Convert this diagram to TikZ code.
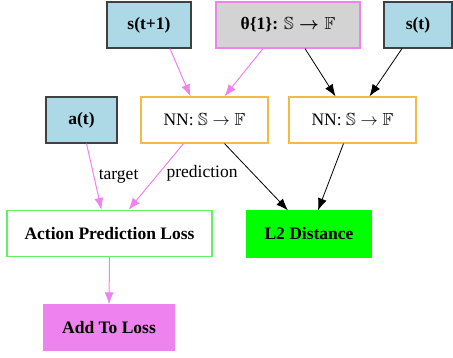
\documentclass[tikz,border=0pt]{standalone}
\usepackage{amsmath,amssymb}
\usepackage{fontspec}
\setmainfont{Liberation Serif}
\usepackage{tikz}
\usepackage{xcolor}
\usetikzlibrary{arrows.meta,positioning}
\definecolor{inBlue}{RGB}{173,216,230}
\definecolor{thetaGray}{RGB}{211,211,211}
\definecolor{edgeViolet}{RGB}{238,130,238}
\definecolor{nnOrange}{RGB}{245,185,70}
\definecolor{lossGreen}{RGB}{100,240,100}
\definecolor{distGreen}{RGB}{0,255,0}

\begin{document}
\begin{tikzpicture}[x=1pt,y=-1pt,
    box/.style={draw, line width=1.2pt, minimum height=46pt, inner sep=2pt,
                font=\fontsize{17.5}{20}\selectfont},
    inbox/.style={box, fill=inBlue, draw=black!75, font=\fontsize{17.5}{20}\selectfont\bfseries},
    nnbox/.style={box, draw=nnOrange, minimum width=127pt},
    vio/.style={-{Latex[length=12pt,width=9pt]}, edgeViolet, line width=1pt},
    blk/.style={-{Latex[length=12pt,width=9pt]}, black, line width=0.8pt},
    lbl/.style={text=black, font=\fontsize{17.5}{20}\selectfont}]
    \useasboundingbox (0,0) rectangle (453,358);

    \node[inbox, minimum width=84pt] (snext) at (149,25) {s(t+1)};
    \node[box, fill=thetaGray, draw=edgeViolet, minimum width=144pt,
          font=\fontsize{17.5}{20}\selectfont\bfseries] (theta) at (288,25)
          {θ\{1\}: $\boldsymbol{\mathbb{S}\rightarrow\mathbb{F}}$};
    \node[inbox, minimum width=68pt] (scur) at (418,25) {s(t)};
    \node[inbox, minimum width=71pt] (act) at (81.5,120) {a(t)};
    \node[nnbox] (nnA) at (204.5,120) {NN: $\mathbb{S}\rightarrow\mathbb{F}$};
    \node[nnbox] (nnB) at (352.5,120) {NN: $\mathbb{S}\rightarrow\mathbb{F}$};
    \node[box, draw=lossGreen, minimum width=205pt,
          font=\fontsize{17.5}{20}\selectfont\bfseries] (apl) at (109.5,233.5) {Action Prediction Loss};
    \node[box, draw=distGreen, fill=distGreen, minimum width=124pt,
          font=\fontsize{17.5}{20}\selectfont\bfseries] (dist) at (309,234) {L2 Distance};
    \node[box, draw=edgeViolet, fill=edgeViolet, minimum width=130pt, minimum height=45pt,
          font=\fontsize{17.5}{20}\selectfont\bfseries] (add) at (109,327.5) {Add To Loss};

    \draw[vio] ([xshift=21pt]snext.south) -- ([xshift=-14pt]nnA.north);
    \draw[vio] ([xshift=-25pt]theta.south) -- ([xshift=20pt]nnA.north);
    \draw[blk] ([xshift=17pt]theta.south) -- ([xshift=-17pt]nnB.north);
    \draw[blk] ([xshift=-16pt]scur.south) -- ([xshift=17pt]nnB.north);
    \draw[vio] ([xshift=5pt]act.south) -- node[lbl, right=1pt] {target} ([xshift=-8pt]apl.north);
    \draw[vio] ([xshift=-21pt]nnA.south) -- node[lbl, pos=0.45, right=4pt] {prediction} ([xshift=19pt]apl.north);
    \draw[blk] ([xshift=20pt]nnA.south) -- ([xshift=-21pt]dist.north);
    \draw[blk] ([xshift=-9pt]nnB.south) -- ([xshift=9pt]dist.north);
    \draw[vio] (apl.south) -- (add.north);
\end{tikzpicture}
\end{document}
